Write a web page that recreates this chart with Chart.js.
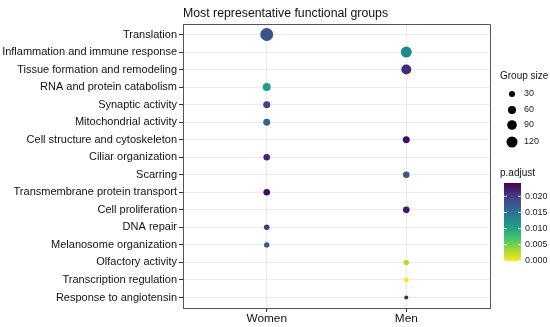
<!DOCTYPE html>
<html><head><meta charset="utf-8">
<script src="https://cdn.jsdelivr.net/npm/chart.js@4/dist/chart.umd.min.js"></script>
<style>html,body{margin:0;padding:0;background:#fff}#wrap{width:550px;height:327px;position:relative}</style>
</head><body><div id="wrap"><canvas id="c" width="550" height="327"></canvas></div>
<script>
// ---- data ----
const terms = [
  'Translation','Inflammation and immune response','Tissue formation and remodeling',
  'RNA and protein catabolism','Synaptic activity','Mitochondrial activity',
  'Cell structure and cytoskeleton','Ciliar organization','Scarring',
  'Transmembrane protein transport','Cell proliferation','DNA repair',
  'Melanosome organization','Olfactory activity','Transcription regulation',
  'Response to angiotensin'
];
const groups = ['Women','Men'];
const termGroup = ['Women','Men','Men','Women','Women','Women','Men','Women','Men',
  'Women','Men','Women','Women','Men','Men','Men'];
const groupSize = [172,120,97,59,43,43,43,38,38,38,38,25,23,23,19,11];
const pAdjust = [0.0181,0.0128,0.0212,0.0108,0.0193,0.0159,0.0233,0.0219,0.0174,
  0.0234,0.0227,0.0198,0.0174,0.0027,0.0001,0.0217];
const sizeBreaks = [30,60,90,120];
const pBreaks = [0.000,0.005,0.010,0.015,0.020];
const pLimits = [0, 0.0241];

// ---- styling helpers ----
const viridis = ['#440154','#482475','#414487','#355F8D','#2A788E','#21918C','#22A884','#44BF70','#7AD151','#BDDF26','#FDE725'];
function hex2rgb(h){return [1,3,5].map(i=>parseInt(h.substr(i,2),16));}
function viridisAt(t){
  t=Math.max(0,Math.min(1,t));
  const s=t*(viridis.length-1), i=Math.min(Math.floor(s),viridis.length-2), f=s-i;
  const a=hex2rgb(viridis[i]), b=hex2rgb(viridis[i+1]);
  return 'rgb('+a.map((v,k)=>Math.round(v+(b[k]-v)*f)).join(',')+')';
}
function colorFor(p){return viridisAt(1-(p-pLimits[0])/(pLimits[1]-pLimits[0]));}
function radiusFor(n){return 0.5+0.457*Math.sqrt(n);}

const points = terms.map((t,i)=>({x: groups.indexOf(termGroup[i])+1, y: i+1}));
const FONT = '"Liberation Sans", Arial, Helvetica, sans-serif';

const extras = {
  id:'extras',
  afterDraw(chart){
    const ctx=chart.ctx, a=chart.chartArea;
    ctx.save();
    // panel border top/right
    ctx.strokeStyle='#555'; ctx.lineWidth=1;
    ctx.beginPath();
    ctx.moveTo(a.left,a.top+0.5); ctx.lineTo(a.right+0.5,a.top+0.5); ctx.lineTo(a.right+0.5,a.bottom);
    ctx.stroke();
    // title
    ctx.fillStyle='#111'; ctx.font='12.3px '+FONT; ctx.textBaseline='alphabetic'; ctx.textAlign='left';
    ctx.fillText('Most representative functional groups', a.left, 17);
    // size legend
    ctx.font='10px '+FONT; ctx.textBaseline='middle';
    ctx.fillText('Group size', 500, 76);
    const ys=[94,110,125,142];
    sizeBreaks.forEach((s,i)=>{
      ctx.fillStyle='#000'; ctx.beginPath(); ctx.arc(512, ys[i], radiusFor(s), 0, Math.PI*2); ctx.fill();
      ctx.fillStyle='#222'; ctx.font='9px '+FONT; ctx.fillText(String(s), 524, ys[i]);
    });
    // colour bar
    ctx.fillStyle='#111'; ctx.font='10px '+FONT;
    ctx.fillText('p.adjust', 500, 173);
    const bx=504,bw=17,by0=183,by1=261;
    const g=ctx.createLinearGradient(0,by1,0,by0);
    for(let k=0;k<=20;k++){g.addColorStop(k/20, viridisAt(1-k/20));}
    ctx.fillStyle=g; ctx.fillRect(bx,by0,bw,by1-by0);
    ctx.font='9px '+FONT;
    pBreaks.forEach(v=>{
      const y=by1-(v-pLimits[0])/(pLimits[1]-pLimits[0])*(by1-by0);
      ctx.strokeStyle='rgba(255,255,255,0.8)';
      ctx.beginPath(); ctx.moveTo(bx,y); ctx.lineTo(bx+3,y); ctx.moveTo(bx+bw-3,y); ctx.lineTo(bx+bw,y); ctx.stroke();
      ctx.fillStyle='#222'; ctx.fillText(v.toFixed(3), 525, y);
    });
    ctx.restore();
  }
};

new Chart(document.getElementById('c'),{
  type:'scatter',
  data:{datasets:[{
    data: points,
    pointRadius: c=>radiusFor(groupSize[c.dataIndex]),
    pointHoverRadius: c=>radiusFor(groupSize[c.dataIndex]),
    pointBackgroundColor: c=>colorFor(pAdjust[c.dataIndex]),
    pointBorderWidth:0
  }]},
  options:{
    responsive:false, animation:false, devicePixelRatio:1,
    layout:{padding:{left:0,right:60,top:24,bottom:0}},
    plugins:{legend:{display:false},tooltip:{enabled:false},title:{display:false}},
    scales:{
      x:{type:'linear', min:0.4, max:2.6,
        afterBuildTicks:s=>{s.ticks=groups.map((g,i)=>({value:i+1}));},
        afterFit:s=>{s.height=19;},
        ticks:{callback:v=>groups[v-1]||'', color:'#111', font:{family:FONT,size:11.8}, padding:0, maxRotation:0},
        grid:{color:'#EBEBEB', tickColor:'#333', tickLength:4},
        border:{color:'#555'}},
      y:{type:'linear', min:0.4, max:terms.length+0.6, reverse:true,
        afterBuildTicks:s=>{s.ticks=terms.map((t,i)=>({value:i+1}));},
        afterFit:s=>{s.width=183;},
        ticks:{callback:v=>terms[v-1]||'', color:'#111', font:{family:FONT,size:11}, padding:2, autoSkip:false},
        grid:{color:'#EBEBEB', tickColor:'#333', tickLength:4},
        border:{color:'#555'}}
    }
  },
  plugins:[extras]
});
</script></body></html>
